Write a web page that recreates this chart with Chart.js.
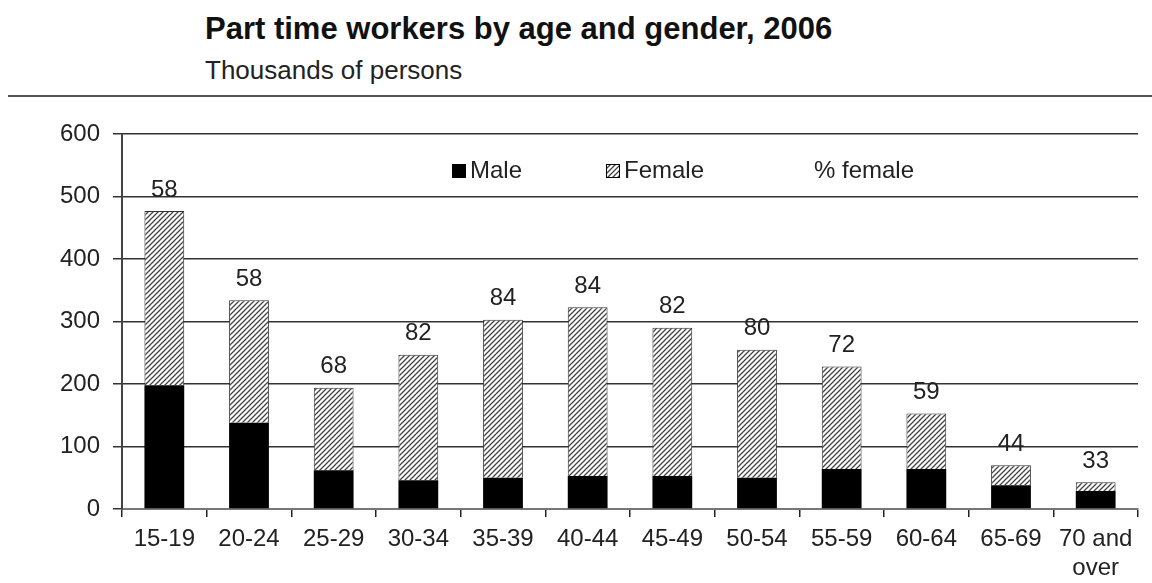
<!DOCTYPE html>
<html>
<head>
<meta charset="utf-8">
<script src="https://cdn.jsdelivr.net/npm/chart.js@4.4.1/dist/chart.umd.min.js"></script>
<style>
  html, body { margin: 0; padding: 0; background: #fff; width: 1152px; height: 583px; overflow: hidden; }
  #wrap { position: relative; width: 1152px; height: 583px; }
  #title { position: absolute; left: 205px; top: 13px; font: bold 31px 'Liberation Sans', Arial, sans-serif; line-height: 1; color: #111; white-space: nowrap; }
  #subtitle { position: absolute; left: 205px; top: 57px; font: 26px 'Liberation Sans', Arial, sans-serif; line-height: 1; color: #222; white-space: nowrap; }
  #rule { position: absolute; left: 8px; right: 0; top: 95px; height: 2px; background: #555; }
  #chartBox { position: absolute; left: 0; top: 0; width: 1152px; height: 583px; }
</style>
</head>
<body>
<div id="wrap">
  <div id="title">Part time workers by age and gender, 2006</div>
  <div id="subtitle">Thousands of persons</div>
  <div id="rule"></div>
  <div id="chartBox"><canvas id="c" width="1152" height="583"></canvas></div>
</div>
<script>
const categories = ['15-19', '20-24', '25-29', '30-34', '35-39', '40-44', '45-49', '50-54', '55-59', '60-64', '65-69', ['70 and', 'over']];
const male = [198, 138, 62, 46, 50, 53, 53, 50, 64, 64, 38, 29];
const female = [279, 196, 132, 201, 253, 270, 237, 205, 164, 89, 32, 14];
const pctFemale = [58, 58, 68, 82, 84, 84, 82, 80, 72, 59, 44, 33];
const yTicks = [0, 100, 200, 300, 400, 500, 600];
const legendLabels = ['Male', 'Female', '% female'];

const FONT = "'Liberation Sans', Arial, sans-serif";

function makeHatch() {
  const s = 5;
  const p = document.createElement('canvas');
  p.width = s; p.height = s;
  const g = p.getContext('2d');
  g.fillStyle = '#ffffff';
  g.fillRect(0, 0, s, s);
  g.strokeStyle = '#444';
  g.lineWidth = 1.3;
  g.beginPath();
  g.moveTo(-1, s + 1); g.lineTo(s + 1, -1);
  g.moveTo(-1, 1); g.lineTo(1, -1);
  g.moveTo(s - 1, s + 1); g.lineTo(s + 1, s - 1);
  g.stroke();
  return document.getElementById('c').getContext('2d').createPattern(p, 'repeat');
}
const hatch = makeHatch();

const pctLabelPlugin = {
  id: 'pctLabels',
  afterDatasetsDraw(chart) {
    const ctx = chart.ctx;
    const meta = chart.getDatasetMeta(1);
    ctx.save();
    ctx.font = '24px ' + FONT;
    ctx.fillStyle = '#222';
    ctx.textAlign = 'center';
    ctx.textBaseline = 'bottom';
    meta.data.forEach((bar, i) => {
      ctx.fillText(String(pctFemale[i]), bar.x, bar.y - 9);
    });
    ctx.restore();
  }
};

const legendPlugin = {
  id: 'inLegend',
  afterDraw(chart) {
    const ctx = chart.ctx;
    const a = chart.chartArea;
    const y = a.top + 37;
    const box = 14;
    const items = [
      { off: 330, fill: '#000', text: legendLabels[0], box: true },
      { off: 484, fill: hatch, text: legendLabels[1], box: true },
      { off: 692, fill: null, text: legendLabels[2], box: false }
    ];
    ctx.save();
    ctx.font = '24px ' + FONT;
    ctx.textBaseline = 'middle';
    ctx.textAlign = 'left';
    items.forEach(it => {
      let x = a.left + it.off;
      if (it.box) {
        ctx.fillStyle = it.fill;
        ctx.fillRect(x, y - box / 2, box, box);
        ctx.strokeStyle = '#000';
        ctx.lineWidth = 1;
        ctx.strokeRect(x + 0.5, y - box / 2 + 0.5, box - 1, box - 1);
        x += box + 4;
      }
      ctx.fillStyle = '#222';
      ctx.fillText(it.text, x, y);
    });
    ctx.restore();
  }
};

Chart.defaults.font.family = FONT;
Chart.defaults.color = '#222';

new Chart(document.getElementById('c'), {
  type: 'bar',
  data: {
    labels: categories,
    datasets: [
      { label: legendLabels[0], data: male, backgroundColor: '#000', borderColor: '#000', borderWidth: 0, stack: 's' },
      { label: legendLabels[1], data: female, backgroundColor: hatch, borderColor: '#333', borderWidth: 1, borderSkipped: 'bottom', stack: 's' }
    ]
  },
  options: {
    responsive: false,
    animation: false,
    events: [],
    layout: { padding: { top: 134, right: 14, left: 0, bottom: 0 } },
    plugins: { legend: { display: false }, tooltip: { enabled: false }, title: { display: false } },
    datasets: { bar: { categoryPercentage: 1, barPercentage: 0.47 } },
    scales: {
      x: {
        stacked: true,
        offset: true,
        afterFit(scale) { scale.height = 74; },
        grid: { offset: true, drawOnChartArea: false, drawTicks: true, tickLength: 8, color: '#222', lineWidth: 1.5 },
        border: { display: true, color: '#777', width: 2 },
        ticks: { font: { size: 24 }, color: '#222', padding: 8, maxRotation: 0, minRotation: 0, autoSkip: false }
      },
      y: {
        stacked: true,
        min: 0,
        max: 600,
        afterFit(scale) { scale.width = 122; },
        afterBuildTicks(scale) { scale.ticks = yTicks.map(v => ({ value: v })); },
        grid: { color: '#333', lineWidth: 1.5, tickLength: 9, drawTicks: true },
        border: { display: true, color: '#444', width: 2 },
        ticks: { font: { size: 24 }, color: '#222', padding: 13 }
      }
    }
  },
  plugins: [pctLabelPlugin, legendPlugin]
});
</script>
</body>
</html>
